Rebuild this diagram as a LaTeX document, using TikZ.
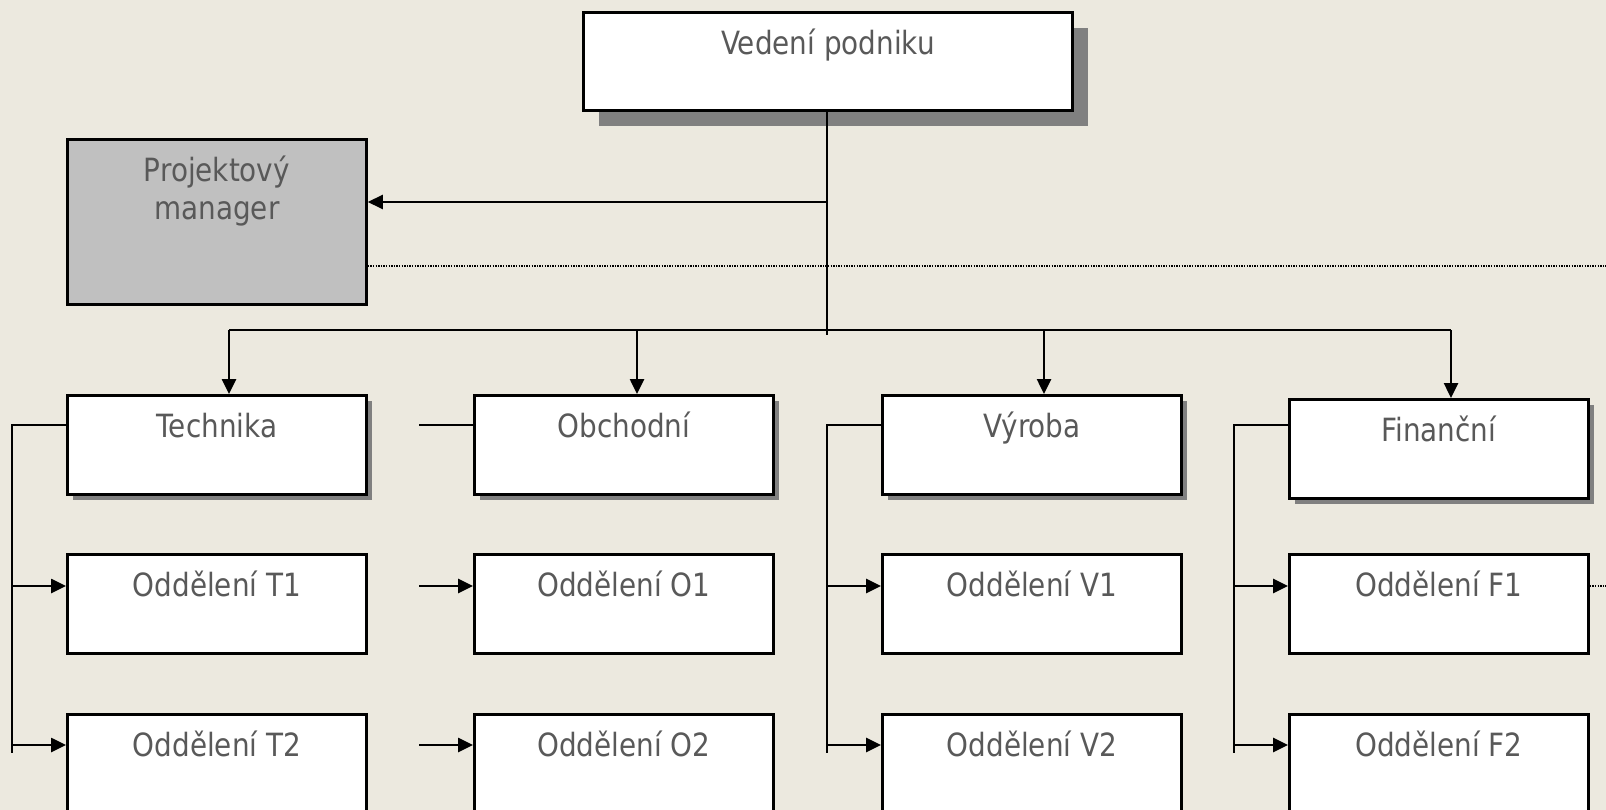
\documentclass[tikz,border=0pt]{standalone}
\usepackage{fontspec}
\setmainfont{DejaVu Sans}[FakeStretch=0.87]
\usetikzlibrary{arrows.meta,shadows}
\definecolor{bgbeige}{RGB}{236,233,223}
\definecolor{txtgray}{RGB}{89,89,89}
\definecolor{pmgray}{RGB}{192,192,192}
\definecolor{shadowgray}{RGB}{128,128,128}

\begin{document}
\begin{tikzpicture}[
    x=1pt, y=-1pt,
    font=\fontsize{32}{38}\selectfont,
    box/.style={draw, line width=2.8pt, fill=white, text=txtgray, anchor=north west, inner sep=0pt, minimum width=299pt, text height=42pt, text depth=57pt},
    head/.style={box, minimum width=489pt, text depth=56pt, drop shadow={shadow xshift=16pt, shadow yshift=-16pt, fill=shadowgray, opacity=1}},
    dept/.style={box, drop shadow={shadow xshift=6pt, shadow yshift=-6pt, fill=shadowgray, opacity=1}},
    pmbox/.style={box, fill=pmgray, align=center, text height=80pt, text depth=85pt},
    arr/.style={-{Triangle[length=15pt,width=14pt]}, line width=2.6pt},
    conn/.style={line width=2.6pt},
    dots/.style={line width=1.3pt, dash pattern=on 1.3pt off 1.3pt}
]
\useasboundingbox (0,0) rectangle (1606,810);
\fill[bgbeige] (0,0) rectangle (1606,810);

\node[head] (head) at (582,11) {Vedení podniku};
\node[pmbox] (pm) at (66,138) {Projektový\\manager};

\node[dept] (tech) at (66,394) {Technika};
\node[dept] (obch) at (473,394) {Obchodní};
\node[dept] (vyr) at (881,394) {Výroba};
\node[dept] (fin) at (1288,398) {Finanční};

\node[box] (t1) at (66,553) {Oddělení T1};
\node[box] (o1) at (473,553) {Oddělení O1};
\node[box] (v1) at (881,553) {Oddělení V1};
\node[box] (f1) at (1288,553) {Oddělení F1};
\node[box] (t2) at (66,713) {Oddělení T2};
\node[box] (o2) at (473,713) {Oddělení O2};
\node[box] (v2) at (881,713) {Oddělení V2};
\node[box] (f2) at (1288,713) {Oddělení F2};

\coordinate (trunk) at (827,335);
\coordinate (jpm) at (827,202);
\coordinate (jt) at (229,330);
\coordinate (jo) at (637,330);
\coordinate (jv) at (1044,330);
\coordinate (jf) at (1451,330);
\coordinate (edgepm) at (1606,266);
\coordinate (edgef) at (1606,586);

\draw[conn] (head.south -| trunk) -- (trunk);
\draw[arr] (jpm) -- (jpm -| pm.east);
\draw[dots] (pm.east |- edgepm) -- (edgepm);
\draw[conn] (jt) -- (jf);
\draw[arr] (jt) -- (jt |- tech.north);
\draw[arr] (jo) -- (jo |- obch.north);
\draw[arr] (jv) -- (jv |- vyr.north);
\draw[arr] (jf) -- (jf |- fin.north);

\coordinate (tl) at (12,425);
\coordinate (te) at (12,753);
\coordinate (ta1) at (12,586);
\coordinate (ta2) at (12,745);
\draw[conn] (tl -| tech.west) -- (tl) -- (te);
\draw[arr] (ta1) -- (ta1 -| t1.west);
\draw[arr] (ta2) -- (ta2 -| t2.west);

\coordinate (ol) at (419,425);
\coordinate (oa1) at (419,586);
\coordinate (oa2) at (419,745);
\draw[conn] (ol) -- (ol -| obch.west);
\draw[arr] (oa1) -- (oa1 -| o1.west);
\draw[arr] (oa2) -- (oa2 -| o2.west);

\coordinate (vl) at (827,425);
\coordinate (ve) at (827,753);
\coordinate (va1) at (827,586);
\coordinate (va2) at (827,745);
\draw[conn] (vl -| vyr.west) -- (vl) -- (ve);
\draw[arr] (va1) -- (va1 -| v1.west);
\draw[arr] (va2) -- (va2 -| v2.west);

\coordinate (fl) at (1234,425);
\coordinate (fe) at (1234,753);
\coordinate (fa1) at (1234,586);
\coordinate (fa2) at (1234,745);
\draw[conn] (fl -| fin.west) -- (fl) -- (fe);
\draw[arr] (fa1) -- (fa1 -| f1.west);
\draw[arr] (fa2) -- (fa2 -| f2.west);

\draw[dots] (f1.east |- edgef) -- (edgef);
\end{tikzpicture}
\end{document}
